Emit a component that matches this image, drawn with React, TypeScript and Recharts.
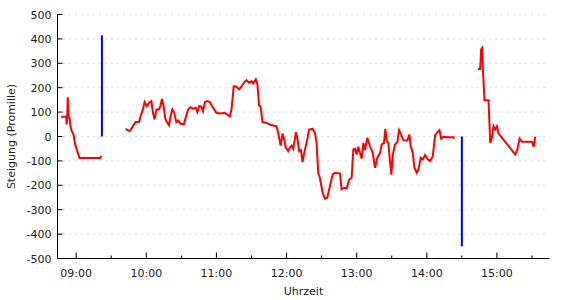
import { LineChart, Line, XAxis, YAxis, CartesianGrid } from 'recharts';

// Uhrzeit in Minuten seit Mitternacht, Steigung in Promille
const seg1Min = [527.1, 531.4, 531.9, 532.3, 532.8, 533.4, 534.3, 535.1, 536.2, 537.7, 539.1, 540.9, 542.8, 560.6, 561.4];
const seg1Val = [81, 81, 49, 81, 161, 81, 77, 42, 22, 8, -33, -60, -88, -88, -80];

const seg2Min = [
    582.3, 585.7, 587.1, 588.5, 590.8, 593.7, 595.1, 597.1, 598.5, 600.5, 602.2, 604.3, 605.7, 607.1, 608.6,
    610.8, 612.0, 613.4, 614.8, 616.3, 617.7, 619.4, 620.8, 622.3, 623.7, 625.7, 627.4, 629.1, 632.0, 633.7,
    635.7, 637.7, 639.9, 642.3, 643.7, 645.1, 647.1, 648.5, 650.2, 652.3, 654.3, 656.6, 658.5, 660.0, 662.8,
    667.1, 671.4, 672.9, 674.8, 677.1, 679.4, 681.4, 683.4, 685.7, 687.9, 690.0, 691.4, 693.7, 695.1, 696.5,
    697.7, 699.4, 702.9, 705.7, 708.5, 711.4, 712.8, 714.9, 716.6, 717.9, 719.4, 721.4, 722.8, 724.3, 725.7,
    727.1, 728.0, 729.4, 730.8, 732.3, 733.7, 735.1, 737.1, 739.4, 742.3, 744.3, 745.7, 747.1, 748.5, 750.9,
    752.8, 754.8, 757.1, 759.4, 761.4, 765.7, 767.1, 769.1, 771.4, 773.7, 775.7, 777.1, 778.6, 780.0, 781.4,
    782.8, 784.3, 785.7, 787.1, 789.1, 791.4, 793.7, 795.7, 797.7, 800.0, 801.4, 803.4, 804.5, 805.7, 807.1,
    808.5, 809.7, 810.9, 812.8, 814.8, 816.3, 818.0, 820.0, 823.4, 825.1, 826.3, 828.0, 829.4, 831.4, 832.8,
    834.9, 836.6, 838.5, 840.5, 842.8, 845.1, 847.1, 849.1, 850.8, 852.3, 854.2, 858.5, 862.8, 863.7,
];
const seg2Val = [
    31, 22, 31, 42, 59, 59, 83, 111, 141, 124, 138, 145, 97, 70, 111,
    111, 124, 154, 124, 72, 59, 46, 83, 111, 100, 59, 66, 53, 49, 77,
    111, 120, 113, 118, 100, 124, 122, 104, 141, 145, 141, 122, 108, 97, 94,
    97, 83, 111, 206, 204, 193, 204, 220, 231, 220, 227, 217, 234, 213, 127,
    124, 59, 56, 49, 45, 42, 15, -37, 12, -12, -46, -60, -46, -37, -50,
    -12, 18, -12, -60, -56, -105, -67, -26, 29, 31, 15, -26, -149, -169, -231,
    -255, -251, -204, -156, -149, -152, -217, -210, -213, -176, -169, -53, -50, -74, -42,
    -67, -91, -26, -56, -5, -40, -67, -128, -87, -67, -33, -26, 31, -19, -26,
    -101, -156, -74, -33, -23, 26, 8, -15, -16, 8, -40, -67, -128, -149, -135,
    -87, -94, -76, -92, -101, -81, 4, 18, 26, -9, -1, -3, -3, -9,
];

const seg3Min = [883.7, 885.7, 886.5, 887.4, 888.0, 888.5, 889.4, 892.8, 894.3, 895.7, 897.1, 898.5, 900.0, 901.4, 915.7, 917.7, 919.4, 921.4, 930.0, 931.4, 932.8];
const seg3Val = [277, 277, 357, 363, 275, 227, 149, 149, -26, -5, 42, 29, 42, 12, -74, -50, -9, -22, -22, -42, -1];

// blaue Markierungen
const mark1Min = [562, 562];
const mark1Val = [0, 415];
const mark2Min = [870, 870];
const mark2Val = [0, -450];

const xTicks = [540, 570, 600, 630, 660, 690, 720, 750, 780, 810, 840, 870, 900, 930];
const yTicks = [-500, -400, -300, -200, -100, 0, 100, 200, 300, 400, 500];

const toPoints = (mins: number[], vals: number[]) => mins.map((t, i) => ({ t, v: vals[i] }));

const fmtTime = (m: number) =>
    `${String(Math.floor(m / 60)).padStart(2, '0')}:${String(m % 60).padStart(2, '0')}`;

const font = { fontFamily: 'DejaVu Sans', fontSize: 11, fill: '#222' };

function BottomTick({ x, y, payload }: any) {
    const major = payload.value % 60 === 0;
    return (
        <g>
            <line x1={x} x2={x} y1={y} y2={y - (major ? 6 : 3)} stroke="#000" />
            {major && <text x={x} y={y + 18.5} textAnchor="middle" {...font}>{fmtTime(payload.value)}</text>}
        </g>
    );
}

function TopTick({ x, y, payload }: any) {
    const major = payload.value % 60 === 0;
    return <line x1={x} x2={x} y1={y} y2={y + (major ? 6 : 3)} stroke="#000" />;
}

function LeftTick({ x, y, payload }: any) {
    return (
        <g>
            <line x1={x} x2={x + 5} y1={y} y2={y} stroke="#000" />
            <text x={x - 6} y={y + 4} textAnchor="end" {...font}>{payload.value}</text>
        </g>
    );
}

function RightTick({ x, y }: any) {
    return <line x1={x} x2={x - 5} y1={y} y2={y} stroke="#000" />;
}

export default function App() {
    return (
        <div style={{ position: 'absolute', left: 0, top: 0 }}>
            <LineChart width={570} height={300} margin={{ top: 14.5, right: 20.5, bottom: 0, left: 0 }}>
                <CartesianGrid vertical={false} stroke="#b4b4b4" strokeDasharray="1 5" />
                <XAxis
                    type="number" dataKey="t" domain={[524, 945]} allowDataOverflow
                    ticks={xTicks} interval={0} height={41.5}
                    tickSize={0} tickMargin={0} tick={<BottomTick />}
                    axisLine={{ stroke: '#000' }} tickLine={false}
                    label={({ viewBox }: any) => (
                        <text x={viewBox.x + viewBox.width / 2} y={viewBox.y + 36.5} textAnchor="middle" {...font}>Uhrzeit</text>
                    )}
                />
                <XAxis
                    xAxisId="top" orientation="top" type="number" domain={[524, 945]} allowDataOverflow
                    ticks={xTicks} interval={0} height={0}
                    tickSize={0} tickMargin={0} tick={<TopTick />}
                    axisLine={{ stroke: '#000' }} tickLine={false}
                />
                <YAxis
                    type="number" domain={[-500, 500]} ticks={yTicks} interval={0} width={57.5}
                    tickSize={0} tickMargin={0} tick={<LeftTick />}
                    axisLine={{ stroke: '#000' }} tickLine={false}
                    label={({ viewBox }: any) => (
                        <text
                            x={15} y={viewBox.y + viewBox.height / 2} textAnchor="middle"
                            transform={`rotate(-90, 15, ${viewBox.y + viewBox.height / 2})`} {...font}
                        >
                            Steigung (Promille)
                        </text>
                    )}
                />
                <YAxis
                    yAxisId="r" orientation="right" type="number" domain={[-500, 500]} ticks={yTicks} interval={0} width={0}
                    tickSize={0} tickMargin={0} tick={<RightTick />}
                    axisLine={{ stroke: '#000' }} tickLine={false}
                />
                <Line data={toPoints(seg1Min, seg1Val)} dataKey="v" type="linear" stroke="#ff0000" strokeWidth={2} dot={false} isAnimationActive={false} />
                <Line data={toPoints(seg2Min, seg2Val)} dataKey="v" type="linear" stroke="#ff0000" strokeWidth={2} dot={false} isAnimationActive={false} />
                <Line data={toPoints(seg3Min, seg3Val)} dataKey="v" type="linear" stroke="#ff0000" strokeWidth={2} dot={false} isAnimationActive={false} />
                <Line data={toPoints(mark1Min, mark1Val)} dataKey="v" type="linear" stroke="#0000ff" strokeWidth={2} dot={false} isAnimationActive={false} />
                <Line data={toPoints(mark2Min, mark2Val)} dataKey="v" type="linear" stroke="#0000ff" strokeWidth={2} dot={false} isAnimationActive={false} />
            </LineChart>
        </div>
    );
}
